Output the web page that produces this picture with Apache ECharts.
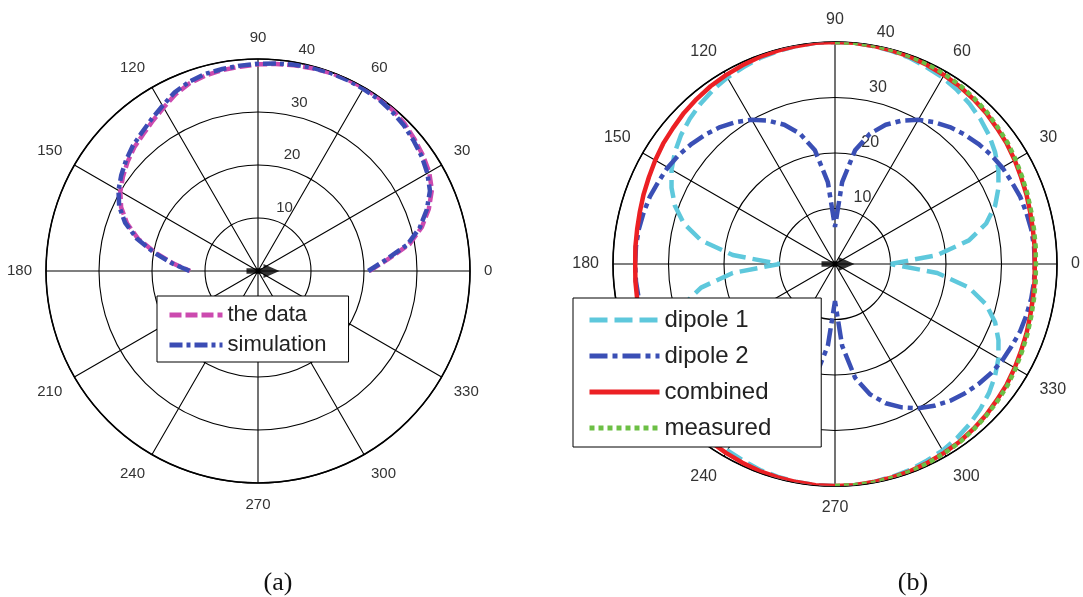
<!DOCTYPE html>
<html><head><meta charset="utf-8">
<script src="https://cdn.jsdelivr.net/npm/echarts@6/dist/echarts.min.js"></script>
<style>html,body{margin:0;padding:0;background:#fff}#c{width:1083px;height:597px}</style>
</head><body><div id="c"></div>
<script>
// ---- data ----
const angleTicks = [0, 30, 60, 90, 120, 150, 180, 210, 240, 270, 300, 330];
const ringTicks = [10, 20, 30, 40];

const anglesA = [0,5,10,15,20,25,30,35,40,45,50,55,60,65,70,75,80,85,90,95,100,105,110,115,120,125,130,135,140,145,150,155,160,165,170,175,180];
const theData = [21.0,24.5,29.0,32.0,34.3,36.2,37.3,38.0,38.6,39.2,39.6,39.8,39.9,39.9,39.8,39.6,39.4,39.2,39.0,38.7,38.5,38.2,37.7,36.8,35.6,34.6,33.7,33.0,32.1,31.1,30.0,28.5,26.3,23.4,19.6,16.0,12.8];
const simulation = [20.8,24.2,28.6,31.6,33.9,35.8,36.9,37.7,38.3,38.9,39.3,39.6,39.7,39.8,39.8,39.7,39.5,39.3,39.1,38.9,38.7,38.5,38.0,37.2,36.0,35.0,34.1,33.4,32.5,31.5,30.4,28.9,26.7,23.7,19.9,16.2,12.9];

const anglesB = [0,5,10,15,20,25,30,35,40,45,50,55,60,65,70,75,80,85,90,95,100,105,110,115,120,125,130,135,140,145,150,155,160,165,170,175,180,185,190,195,200,205,210,215,220,225,230,235,240,245,250,255,260,265,270,275,280,285,290,295,300,305,310,315,320,325,330,335,340,345,350,355,360];
const dipole1 = [10.0,18.5,24.5,28.2,30.7,32.5,34.0,35.2,36.2,37.0,37.7,38.3,38.8,39.1,39.5,39.7,39.9,40.0,40.0,
  40.0,39.9,39.7,39.5,39.1,38.8,38.3,37.7,37.0,36.2,35.2,34.0,32.5,30.7,28.2,24.5,18.5,10.0,
  18.5,24.5,28.2,30.7,32.5,34.0,35.2,36.2,37.0,37.7,38.3,38.8,39.1,39.5,39.7,39.9,40.0,40.0,
  40.0,39.9,39.7,39.5,39.1,38.8,38.3,37.7,37.0,36.2,35.2,34.0,32.5,30.7,28.2,24.5,18.5,10.0];
const dipole2 = [36.0,36.0,35.9,35.7,35.5,35.1,34.8,34.3,33.7,33.0,32.2,31.2,30.0,28.5,26.7,24.3,20.8,14.8,6.7,
  14.8,20.8,24.3,26.7,28.5,30.0,31.2,32.2,33.0,33.7,34.3,34.8,35.1,35.5,35.7,35.9,36.0,36.0,
  36.0,35.9,35.7,35.5,35.1,34.8,34.3,33.7,33.0,32.2,31.2,30.0,28.5,26.7,24.3,20.8,14.8,6.7,
  14.8,20.8,24.3,26.7,28.5,30.0,31.2,32.2,33.0,33.7,34.3,34.8,35.1,35.5,35.7,35.9,36.0,36.0];
const combined = [36.0,36.1,36.2,36.4,36.7,37.0,37.4,37.8,38.1,38.5,38.8,39.1,39.3,39.5,39.7,39.8,39.9,40.0,40.0,
  40.0,39.9,39.8,39.7,39.5,39.3,39.1,38.8,38.5,38.1,37.8,37.4,37.0,36.7,36.4,36.2,36.1,36.0,
  36.1,36.2,36.4,36.7,37.0,37.4,37.8,38.1,38.5,38.8,39.1,39.3,39.5,39.7,39.8,39.9,40.0,40.0,
  40.0,39.9,39.8,39.7,39.5,39.3,39.1,38.8,38.5,38.1,37.8,37.4,37.0,36.7,36.4,36.2,36.1,36.0];
const measuredAngles = [270,275,280,285,290,295,300,305,310,315,320,325,330,335,340,345,350,355,0,5,10,15,20,25,30,35,40,45,50,55,60,65,70,75,80,85,90];
const measured = [40.0,40.0,40.0,39.9,39.8,39.6,39.4,39.2,38.9,38.6,38.3,38.0,37.6,37.2,36.9,36.6,36.4,36.3,36.2,36.3,36.4,36.6,36.9,37.2,37.6,38.0,38.3,38.7,39.0,39.3,39.5,39.7,39.8,39.9,40.0,40.0,40.0];

const legendA = ['the data', 'simulation'];
const legendB = ['dipole 1', 'dipole 2', 'combined', 'measured'];
const captions = ['(a)', '(b)'];

// ---- chart ----
const FONT = '"Liberation Sans", Arial, sans-serif';
const chart = echarts.init(document.getElementById('c'), null, {renderer: 'canvas'});
const pairs = (angles, vals) => angles.map((a, i) => [vals[i], a]);

function angleAxisCfg(pi, fs) {
  return {polarIndex: pi, type: 'value', min: 0, max: 360, interval: 30, startAngle: 0, clockwise: false,
    axisLine: {show: true, lineStyle: {color: '#000', width: 1.6}},
    axisTick: {show: false},
    axisLabel: {show: true, margin: 14, fontSize: fs, color: '#333', fontFamily: FONT,
      formatter: v => angleTicks.indexOf(v) >= 0 ? String(v) : ''},
    splitLine: {show: true, lineStyle: {color: '#000', width: 1.1}}};
}
function radiusAxisCfg(pi) {
  return {polarIndex: pi, type: 'value', min: 0, max: 40, interval: 10,
    axisLine: {show: false}, axisTick: {show: false}, axisLabel: {show: false},
    splitLine: {show: true, lineStyle: {color: '#000', width: 1.1}}};
}
function labelAngleAxis(pi) {
  return {polarIndex: pi, type: 'value', min: 0, max: 360, startAngle: 82, clockwise: false, show: false};
}
function labelRadiusAxis(pi, fs) {
  return {polarIndex: pi, type: 'value', min: 0, max: 40, interval: 10,
    axisLine: {show: false}, axisTick: {show: false}, splitLine: {show: false},
    axisLabel: {show: true, margin: -11, align: 'left', verticalAlign: 'bottom', padding: [0, 0, 5, 0],
      fontSize: fs, color: '#333', fontFamily: FONT,
      formatter: v => ringTicks.indexOf(v) >= 0 ? String(v) : ''}};
}
function lineSeries(name, pi, data, color, width, type, z) {
  return {name, type: 'line', coordinateSystem: 'polar', polarIndex: pi, data,
    symbol: 'none', showSymbol: false, smooth: false, animation: false, silent: true, z,
    lineStyle: {color, width, type}, itemStyle: {color}};
}
const arrowPath = 'path://M0,4 L17,4 L17,0 L33,6.5 L17,13 L17,9 L0,9 Z';
function arrow(pi, off) {
  return {type: 'scatter', coordinateSystem: 'polar', polarIndex: pi, data: [[0, 0]],
    symbol: arrowPath, symbolSize: [33, 14], symbolOffset: [off, 0], silent: true, z: 20,
    animation: false, itemStyle: {color: '#000'}};
}

const option = {
  backgroundColor: '#fff',
  animation: false,
  polar: [
    {center: [258, 271], radius: 212},
    {center: [835, 264], radius: 222},
    {center: [258, 271], radius: 212},
    {center: [835, 264], radius: 222}
  ],
  angleAxis: [angleAxisCfg(0, 15), angleAxisCfg(1, 16), labelAngleAxis(2), labelAngleAxis(3)],
  radiusAxis: [radiusAxisCfg(0), radiusAxisCfg(1), labelRadiusAxis(2, 15), labelRadiusAxis(3, 16)],
  legend: [
    {data: legendA.map(n => ({name: n, itemStyle: {opacity: 0}})), orient: 'vertical', left: 157, top: 296,
      itemWidth: 53, itemHeight: 10, itemGap: 8, padding: [8, 22, 6, 10],
      borderColor: '#000', borderWidth: 1, backgroundColor: '#fff', selectedMode: false, z: 30,
      lineStyle: {width: 5}, textStyle: {fontSize: 22, color: '#222', fontFamily: FONT}},
    {data: legendB.map(n => ({name: n, itemStyle: {opacity: 0}})), orient: 'vertical', left: 573, top: 298,
      itemWidth: 70, itemHeight: 10, itemGap: 12, padding: [10, 50, 7, 14],
      borderColor: '#000', borderWidth: 1, backgroundColor: '#fff', selectedMode: false, z: 30,
      lineStyle: {width: 5}, textStyle: {fontSize: 24, color: '#222', fontFamily: FONT}}
  ],
  graphic: [
    {type: 'text', x: 278, y: 583, style: {text: captions[0], fontSize: 26, fontFamily: '"Liberation Serif", "Times New Roman", serif', fill: '#111', align: 'center', verticalAlign: 'middle'}},
    {type: 'text', x: 913, y: 583, style: {text: captions[1], fontSize: 26, fontFamily: '"Liberation Serif", "Times New Roman", serif', fill: '#111', align: 'center', verticalAlign: 'middle'}}
  ],
  series: [
    lineSeries('the data', 0, pairs(anglesA, theData), '#cc4aaf', 4.5, [12, 4], 3),
    lineSeries('simulation', 0, pairs(anglesA, simulation), '#3b4cb4', 4.5, [13, 4, 4, 4], 4),
    lineSeries('dipole 1', 1, pairs(anglesB, dipole1), '#5ec8dc', 4.5, [18, 7], 3),
    lineSeries('dipole 2', 1, pairs(anglesB, dipole2), '#3a4fb5', 4.5, [18, 5, 5, 5], 4),
    lineSeries('combined', 1, pairs(anglesB, combined), '#ec2024', 4.5, 'solid', 5),
    lineSeries('measured', 1, pairs(measuredAngles, measured), '#6cbf45', 4.5, [5, 4], 6),
    arrow(0, 5), arrow(1, 3)
  ]
};
chart.setOption(option);
</script></body></html>
